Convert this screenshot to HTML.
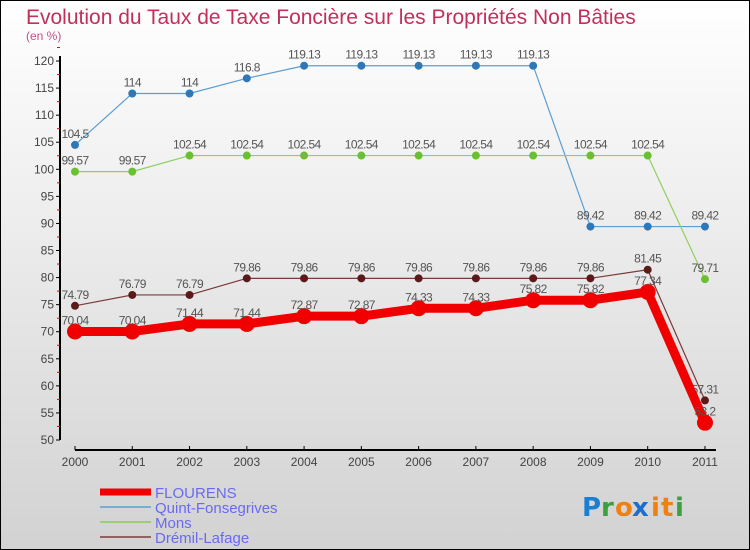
<!DOCTYPE html>
<html><head><meta charset="utf-8"><style>
body{margin:0}
svg{display:block;font-family:"Liberation Sans",sans-serif}
</style></head><body>
<svg id="c" width="750" height="550">
<defs><linearGradient id="bg" x1="0" y1="0" x2="0" y2="1"><stop offset="0" stop-color="#ffffff"/><stop offset="1" stop-color="#d2d2d2"/></linearGradient></defs>
<rect x="0.5" y="0.5" width="749" height="549" fill="url(#bg)" stroke="#000"/>
<text x="26" y="24" font-size="21" fill="#c0305a">Evolution du Taux de Taxe Foncière sur les Propriétés Non Bâties</text>
<text x="26" y="40" font-size="12" fill="#c0508a">(en %)</text>
<g id="axes"></g><g id="series"></g><g id="legend"></g>
<g font-family="'DejaVu Sans',sans-serif" font-size="26" font-weight="bold">
<text x="582" y="516" fill="#1a7fd0">P</text><text x="601" y="516" fill="#3aa040">r</text><text x="615" y="516" fill="#f08010">o</text><text x="632" y="516" fill="#1a6fd0">x</text><text x="651" y="516" fill="#f08010">i</text><text x="661" y="516" fill="#f08010">t</text><text x="675" y="516" fill="#3aa040">i</text>
</g>
</svg>
<script>
const years=[2000,2001,2002,2003,2004,2005,2006,2007,2008,2009,2010,2011];
const flourens=[70.04,70.04,71.44,71.44,72.87,72.87,74.33,74.33,75.82,75.82,77.34,53.2];
const quint=[104.5,114,114,116.8,119.13,119.13,119.13,119.13,119.13,89.42,89.42,89.42];
const mons=[99.57,99.57,102.54,102.54,102.54,102.54,102.54,102.54,102.54,102.54,102.54,79.71];
const dremil=[74.79,76.79,76.79,79.86,79.86,79.86,79.86,79.86,79.86,79.86,81.45,57.31];
const yTicks=[50,55,60,65,70,75,80,85,90,95,100,105,110,115,120];
const NS="http://www.w3.org/2000/svg";
const X=i=>75+i*57.27, Y=v=>440-(v-50)*5.414;
function mk(p,t,a){const e=document.createElementNS(NS,t);for(const k in a)e.setAttribute(k,a[k]);p.appendChild(e);return e;}
const ax=document.getElementById('axes');
let e=mk(ax,'line',{x1:60,y1:Y(120)-5,x2:60,y2:Y(50),stroke:'#000','stroke-width':2});


e=mk(ax,'line',{x1:75,y1:450,x2:716,y2:450,stroke:'#000','stroke-width':2});


yTicks.forEach(v=>{
 mk(ax,'line',{x1:56,y1:Y(v),x2:60,y2:Y(v),stroke:'#000'});
 mk(ax,'line',{x1:57,y1:Y(v+2.5),x2:60,y2:Y(v+2.5),stroke:'#e00'});
 const t=mk(ax,'text',{x:54,y:Y(v)+4,'text-anchor':'end','font-size':12,fill:'#444'});t.textContent=v;
 
 
});
years.forEach((y,i)=>{
 mk(ax,'line',{x1:X(i),y1:446,x2:X(i),y2:450,stroke:'#000'});
 const t=mk(ax,'text',{x:X(i),y:466,'text-anchor':'middle','font-size':12,fill:'#444'});t.textContent=y;
 
 
});
const sg=document.getElementById('series');
const S=[[quint,'#5a9fd4','#2f78b8',1.2,4,'quint-fonsegrives'],[mons,'#8ed060','#6ac030',1.2,4,'mons'],[dremil,'#7a3a3a','#5a1a1a',1.2,4,'dremil-lafage'],[flourens,'#f00000','#f00000',9,8,'flourens']];
S.forEach(([d,lc,pc,w,r,n])=>{
 const g=mk(sg,'g',{});
 
 
 mk(g,'polyline',{points:d.map((v,i)=>X(i)+','+Y(v)).join(' '),fill:'none',stroke:lc,'stroke-width':w,'stroke-linejoin':'round'});
 d.forEach((v,i)=>{
  const c=mk(g,'circle',{cx:X(i),cy:Y(v),r:r,fill:pc});
  
  
  const t=mk(g,'text',{x:X(i),y:Y(v)-7,'text-anchor':'middle','font-size':12,fill:'#555','letter-spacing':'-0.6'});t.textContent=v;
  
  
 });
});
const lg=document.getElementById('legend');
[['FLOURENS','#f00000',7],['Quint-Fonsegrives','#7aaed0',2],['Mons','#9ad070',2],['Drémil-Lafage','#956060',2]].forEach(([n,c,w],i)=>{
 const y=492+i*15;
 const g=mk(lg,'g',{});
 
 
 mk(g,'line',{x1:100,y1:y,x2:151,y2:y,stroke:c,'stroke-width':w});
 const t=mk(g,'text',{x:155,y:y+6,'font-size':15,fill:'#6a6af0'});t.textContent=n;
});
</script>
</body></html>
